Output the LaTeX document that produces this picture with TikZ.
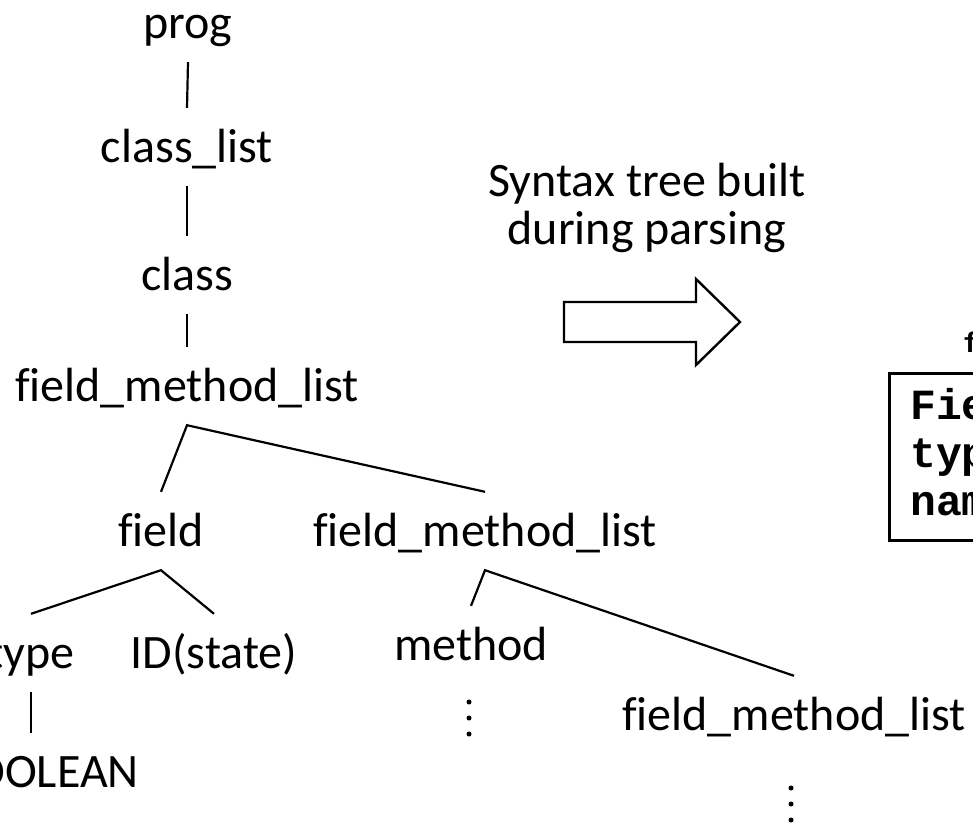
\documentclass[tikz,border=0pt]{standalone}
\usepackage{fontspec}
\setmainfont{Carlito}[Ligatures=NoCommon]
\newfontfamily\codefont{Liberation Mono}
\begin{document}
\begin{tikzpicture}[x=1pt,y=-1pt,
  lbl/.style={font=\fontsize{48}{58}\selectfont, inner sep=0pt, anchor=base,
              text height=54pt, text depth=24pt},
  captext/.style={font=\fontsize{48}{58}\selectfont, inner sep=0pt, anchor=base},
  code/.style={font=\codefont\bfseries\fontsize{43}{50}\selectfont, inner sep=0pt, anchor=base west},
  smallcode/.style={font=\codefont\bfseries\fontsize{28}{32}\selectfont, inner sep=0pt, anchor=base west},
  edge/.style={line width=2.2pt},
  dotmark/.style={circle, fill, inner sep=0pt, minimum size=5pt}]
\useasboundingbox (0,0) rectangle (973,823);
\clip (0,0) rectangle (973,823);

% parse tree labels
\node[lbl] (prog)   at (188,38)  {prog};
\node[lbl] (clist)  at (187,162) {class\_list};
\node[lbl] (cls)    at (187,290) {class};
\node[lbl] (fml)    at (187,401) {field\_method\_list};
\node[lbl] (field)  at (161,546) {field};
\node[lbl] (fml2)   at (485,546) {field\_method\_list};
\node[lbl] (type)   at (31,668)  {type};
\node[lbl] (id)     at (214,668) {ID(state)};
\node[lbl] (method) at (471,660) {method};
\node[lbl] (fml3)   at (794,730) {field\_method\_list};
\node[lbl] (bool)   at (43,787)  {BOOLEAN};

% parse tree edges
\draw[edge] (prog.south) -- (clist.north);
\draw[edge] (clist.south) -- (cls.north);
\draw[edge] (cls.south) -- (fml.north);
\draw[edge] (field.north) -- (fml.south) -- (fml2.north);
\draw[edge] (type.north) -- (field.south) -- (id.north);
\draw[edge] (method.north) -- (fml2.south) -- (fml3.north);
\draw[edge] (type.south) -- (type.south |- bool.north);

% elided subtrees
\foreach \yy in {702,718,734} \node[dotmark] at (469,\yy) {};
\foreach \yy in {788,804,820} \node[dotmark] at (791,\yy) {};

% caption and block arrow
\node[captext] (cap1) at (647,196) {Syntax tree built};
\node[captext] (cap2) at (647,244) {during parsing};
\draw[line width=2.4pt, line join=miter]
  (564,302) -- (696,302) -- (696,279) -- (740,322) -- (696,365) -- (696,342) -- (564,342) -- cycle;

% AST node box
\node[smallcode] (flabel) at (963,352) {f};
\draw[line width=3pt] (889,373) rectangle (1010,540);
\node[code] (row1) at (910,419) {Fie};
\node[code] (row2) at (910,467) {typ};
\node[code] (row3) at (910,515) {nam};
\end{tikzpicture}
\end{document}
